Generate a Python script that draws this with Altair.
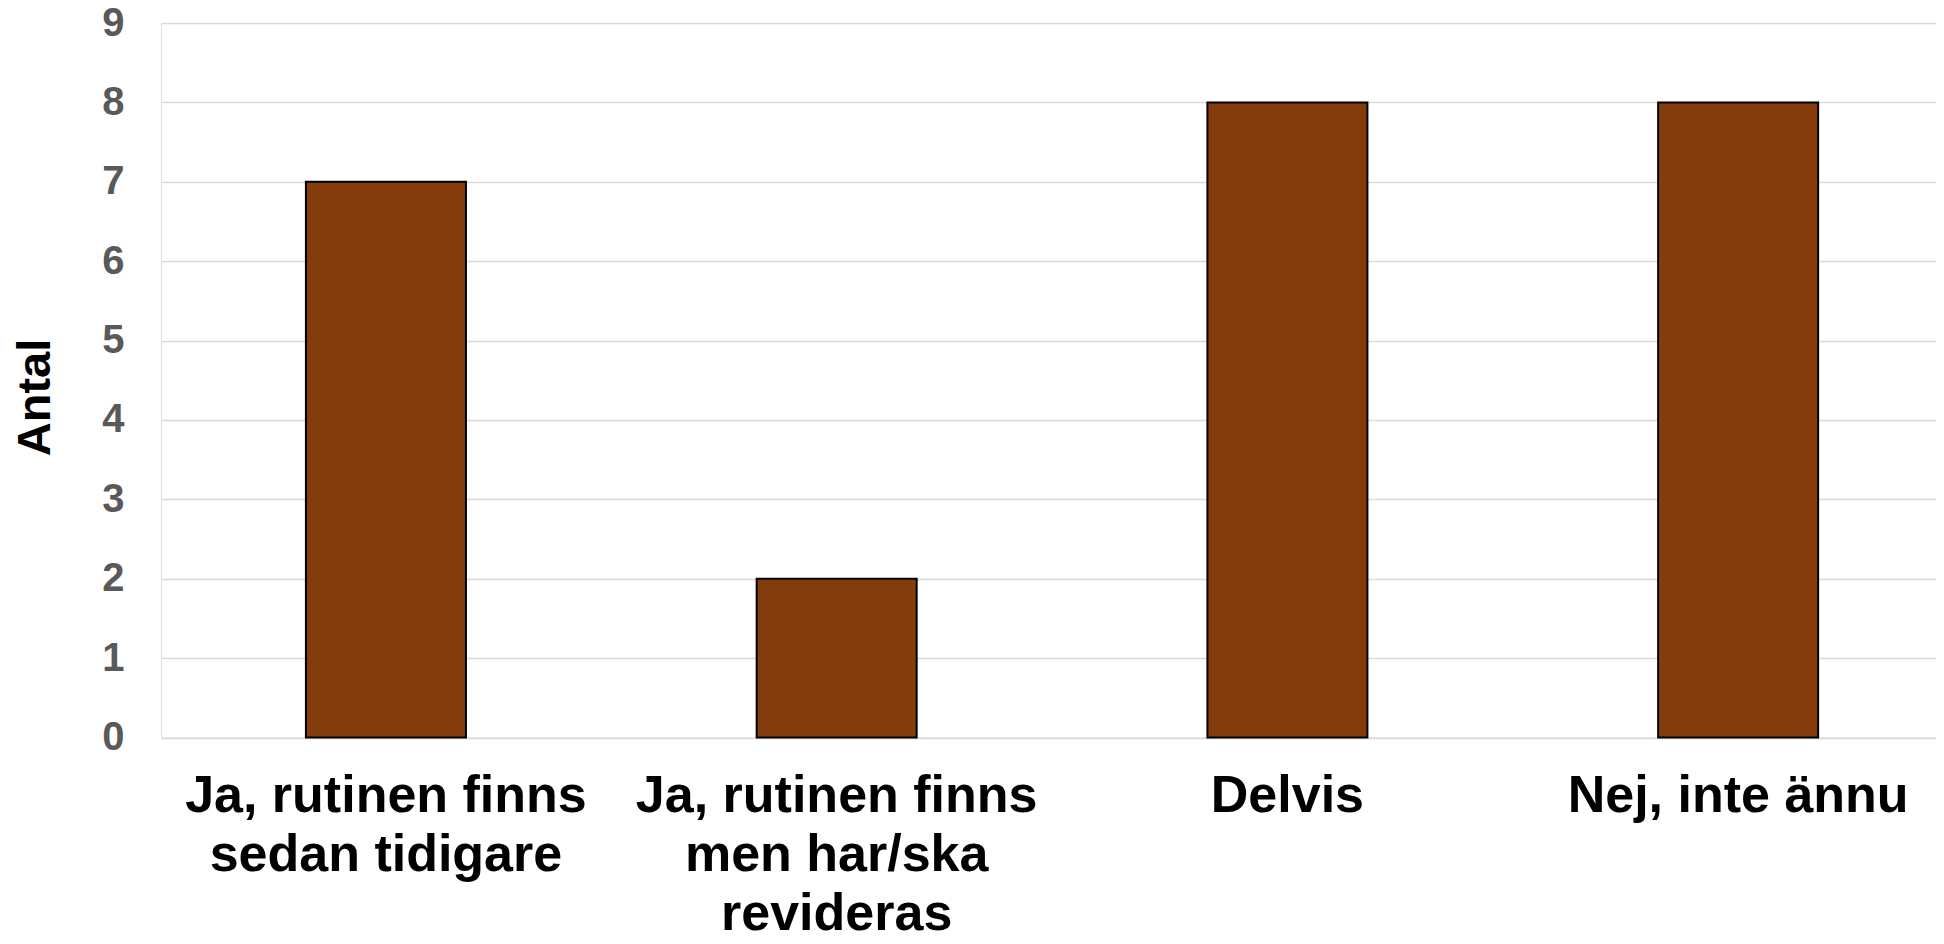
import altair as alt
import pandas as pd

categories = [
    "Ja, rutinen finns\nsedan tidigare",
    "Ja, rutinen finns\nmen har/ska\nrevideras",
    "Delvis",
    "Nej, inte ännu",
]
values = [7, 2, 8, 8]
y_ticks = [0, 1, 2, 3, 4, 5, 6, 7, 8, 9]

df = pd.DataFrame({"kategori": categories, "antal": values})

FONT = "Liberation Sans, Arial, sans-serif"

chart = (
    alt.Chart(df)
    .mark_bar(color="#843C0C", stroke="#000000", strokeWidth=2)
    .encode(
        x=alt.X(
            "kategori:N",
            sort=categories,
            title=None,
            scale=alt.Scale(paddingInner=0.645, paddingOuter=0.2915, align=0.5515),
            axis=alt.Axis(
                labelAngle=0,
                labelExpr="split(datum.label, '\\n')",
                labelFont=FONT,
                labelFontSize=52,
                labelFontWeight="bold",
                labelColor="#000000",
                labelLineHeight=59,
                labelPadding=33,
                labelBaseline="top",
                labelLimit=0,
                domain=False,
                ticks=False,
                grid=False,
            ),
        ),
        y=alt.Y(
            "antal:Q",
            title="Antal",
            scale=alt.Scale(domain=[0, 9], nice=False),
            axis=alt.Axis(
                values=y_ticks,
                format="d",
                labelFont=FONT,
                labelFontSize=40,
                labelFontWeight="bold",
                labelColor="#595959",
                labelPadding=37,
                domain=False,
                ticks=False,
                grid=True,
                gridColor="#d9d9d9",
                gridWidth=1.6,
                titleFont=FONT,
                titleFontSize=47,
                titleFontWeight="bold",
                titleColor="#000000",
                titleAngle=-90,
                titleX=-126,
                titleY=374,
                titleAlign="center",
                titleBaseline="middle",
            ),
        ),
    )
    .properties(
        width=1775,
        height=714.5,
        autosize=alt.AutoSizeParams(type="none"),
        padding={"left": 153, "top": 15, "right": 0, "bottom": 196},
    )
    .configure_view(stroke=None)
    .configure(background="#ffffff")
)

chart.save("out.html", embed_options={"renderer": "svg", "actions": False})
